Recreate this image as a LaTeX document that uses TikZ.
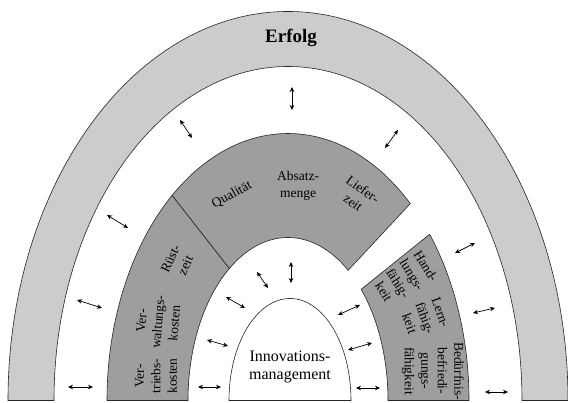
\documentclass[tikz,border=0pt]{standalone}
\usepackage{fontspec}
\setmainfont{Liberation Serif}
\usetikzlibrary{arrows.meta,calc}
\definecolor{bandlight}{gray}{0.80}
\definecolor{banddark}{gray}{0.62}
\begin{document}
\begin{tikzpicture}[x=1pt,y=1pt,
  outline/.style={draw=black!85,line width=0.6pt},
  successband/.style={outline,fill=bandlight},
  factorband/.style={outline,fill=banddark},
  core/.style={outline,fill=white},
  factor/.style={font=\fontsize{13.5}{16.5}\selectfont,align=center,inner sep=0pt},
  twoway/.style={{Stealth[length=5pt,width=4.5pt]}-{Stealth[length=5pt,width=4.5pt]},line width=0.7pt},
]
\useasboundingbox (0,0) rectangle (568,403);
\fill[white] (0,0) rectangle (568,403);
\coordinate (O) at (288,2.5);
\coordinate (I) at (290,2.5);

% outer band: Erfolg
\filldraw[successband] ($(O)+(-280,0)$)
  arc[start angle=180,end angle=0,x radius=280pt,y radius=389pt]
  -- ($(O)+(234,0)$)
  arc[start angle=0,end angle=180,x radius=234pt,y radius=334pt] -- cycle;

% middle band, left piece
\filldraw[factorband] ($(O)+(-181,0)$)
  arc[start angle=180,end angle=129.8,x radius=181pt,y radius=267pt]
  -- ($(O)+(125.9:100pt and 163pt)$)
  arc[start angle=125.9,end angle=180,x radius=100pt,y radius=163pt] -- cycle;
% middle band, top piece
\filldraw[factorband] ($(O)+(129.8:181pt and 267pt)$)
  arc[start angle=129.8,end angle=47.5,x radius=181pt,y radius=267pt]
  -- ($(O)+(53:100pt and 163pt)$)
  arc[start angle=53,end angle=125.9,x radius=100pt,y radius=163pt] -- cycle;
% middle band, right piece
\filldraw[factorband] ($(O)+(38.5:181pt and 267pt)$)
  arc[start angle=38.5,end angle=0,x radius=181pt,y radius=267pt]
  -- ($(O)+(100,0)$)
  arc[start angle=0,end angle=43,x radius=100pt,y radius=163pt] -- cycle;

% core arch
\filldraw[core] ($(I)+(-61,0)$)
  arc[start angle=180,end angle=0,x radius=61pt,y radius=102pt] -- cycle;

% labels
\node[font=\fontsize{19}{21}\selectfont\bfseries,inner sep=0pt] (erfolg) at (291,365) {Erfolg};
\node[font=\fontsize{16}{18}\selectfont,align=center,inner sep=0pt] (innov) at (290,36) {Innovations-\\management};

\node[factor,rotate=29] (qual) at (232,208) {Qualität};
\node[factor] (absatz) at (298,217) {Absatz-\\menge};
\node[factor,rotate=-36] (liefer) at (358,207) {Liefer-\\zeit};
\node[factor,rotate=65] (ruest) at (178,141) {Rüst-\\zeit};
\node[factor,rotate=85] (verwalt) at (158,81) {Ver-\\waltungs-\\kosten};
\node[factor,rotate=90] (vertrieb) at (156,27) {Ver-\\triebs-\\kosten};
\node[factor,rotate=-58] (handl) at (405,124) {Hand-\\lungs-\\fähig-\\keit};
\node[factor,rotate=-70] (lern) at (425,85) {Lern-\\fähig-\\keit};
\node[factor,rotate=-90] (beduerf) at (433,32) {Bedürfnis-\\befriedi-\\gungs-\\fähigkeit};

% two-way arrows between the rings
\foreach \n/\xa/\ya/\xb/\yb in {
  o1/292/316/292/293, o2/180/283/192/265, o3/385/255/398/273,
  o4/107/188/128/175, o5/77/103/102/95, o6/68/16/93/16,
  o7/455/150/475/160, o8/473/90/495/95, o9/485/11/508/11,
  i1/291/141/291/120, i2/257/131/268/115, i3/226/106/245/95,
  i4/207/63/228/57, i5/198/16/221/16, i6/338/88/360/98,
  i7/348/53/372/60, i8/356/15/380/15}
{
  \coordinate (\n-a) at (\xa,\ya);
  \coordinate (\n-b) at (\xb,\yb);
  \draw[twoway] (\n-a) -- (\n-b);
}
\end{tikzpicture}
\end{document}
